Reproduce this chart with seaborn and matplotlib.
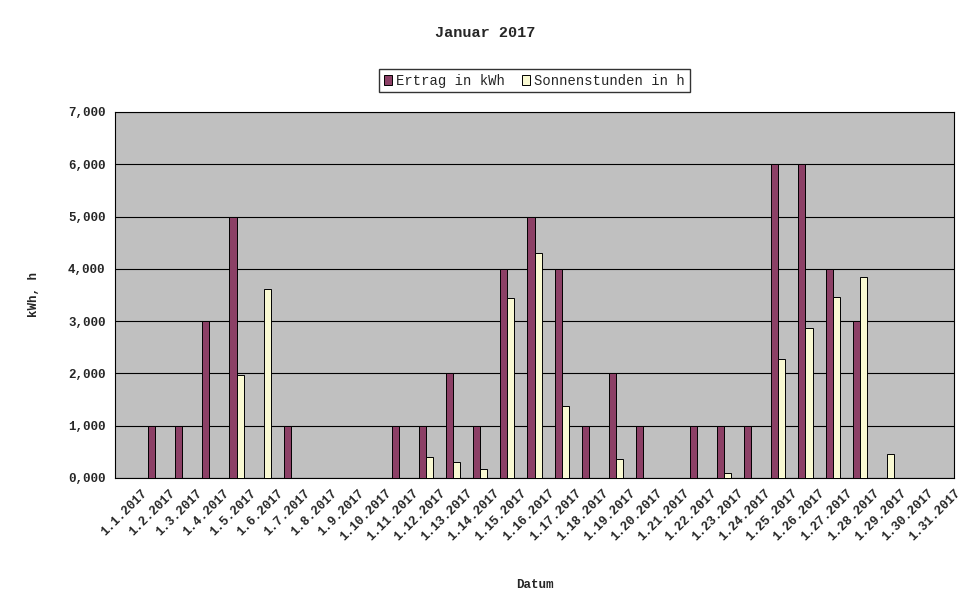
import matplotlib
matplotlib.use("Agg")
import matplotlib.pyplot as plt
import seaborn as sns
import pandas as pd
from matplotlib.ticker import FuncFormatter

days = [f"1.{d}.2017" for d in range(1, 32)]
ertrag = [0,1,1,3,5,0,1,0,0,0,1,1,2,1,4,5,4,1,2,1,0,1,1,1,6,6,4,3,0,0,0]
sonne = [0,0,0,0,1.97,3.62,0,0,0,0,0,0.40,0.30,0.18,3.45,4.30,1.38,0,0.37,0,0,0,0.10,0,2.28,2.87,3.47,3.85,0.45,0,0]
series = ["Ertrag in kWh", "Sonnenstunden in h"]

df = pd.DataFrame({"Datum": days * 2, "v": ertrag + sonne,
                   "s": [series[0]] * 31 + [series[1]] * 31})

sns.set_style("white")
plt.rcParams["font.family"] = ["Liberation Mono", "DejaVu Sans"]
fig = plt.figure(figsize=(9.71, 6.05), dpi=100)
ax = fig.add_axes([0.118, 0.21, 0.865, 0.605])
ax.set_facecolor("#c0c0c0")
sns.barplot(data=df, x="Datum", y="v", hue="s", palette=["#993366", "#ffffcc"],
            edgecolor="black", linewidth=0.7, width=0.52, ax=ax, zorder=3)
ax.set_ylim(0, 7)
ax.set_yticks(range(8))
ax.yaxis.set_major_formatter(FuncFormatter(lambda v, p: f"{int(v)},000"))
ax.grid(axis="y", color="black", linewidth=0.8, zorder=0)
ax.set_axisbelow(True)
for s in ax.spines.values():
    s.set_color("black"); s.set_linewidth(0.8)
ax.tick_params(axis="both", labelsize=9, length=3, direction="out", color="black")
for t in ax.get_yticklabels() + ax.get_xticklabels():
    t.set_fontweight("bold")
ax.set_xticks([i + 0.5 for i in range(31)])
ax.set_xticklabels(days, rotation=45, ha="right", rotation_mode="anchor")
ax.set_xlim(-0.5, 30.5)
ax.set_xlabel("Datum", fontsize=9, fontweight="bold", labelpad=26)
ax.set_ylabel("kWh, h", fontsize=9, fontweight="bold", labelpad=20)
fig.text(0.5, 0.945, "Januar 2017", ha="center", va="center", fontsize=11, fontweight="bold")
leg = ax.legend(loc="upper center", bbox_to_anchor=(0.5, 1.137), ncol=2, frameon=True,
                fancybox=False, edgecolor="black", fontsize=10, handlelength=0.6,
                handletextpad=0.3, columnspacing=1.2, borderpad=0.35)
leg.set_title(None)
fig.savefig("out.png", dpi=100, facecolor="white")
